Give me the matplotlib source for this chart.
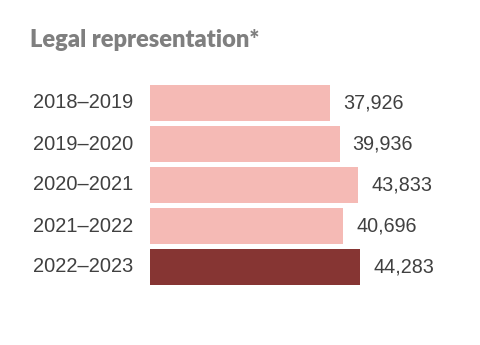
import matplotlib
matplotlib.use("Agg")
import matplotlib.pyplot as plt

categories = ["2018–2019", "2019–2020", "2020–2021", "2021–2022", "2022–2023"]
values = [37926, 39936, 43833, 40696, 44283]
value_labels = ["37,926", "39,936", "43,833", "40,696", "44,283"]
colors = ["#f5bab5", "#f5bab5", "#f5bab5", "#f5bab5", "#863533"]

W, H = 480, 345
fig = plt.figure(figsize=(W / 100, H / 100), dpi=100)
left_px, right_px = 150, 470
top_px, bot_px = 82.5, 287.5
ax = fig.add_axes([left_px / W, 1 - bot_px / H, (right_px - left_px) / W, (bot_px - top_px) / H])

scale = 180 / 37926  # px per unit
ax.set_xlim(0, (right_px - left_px) / scale)
ax.set_ylim(4.5, -0.5)
ypos = list(range(len(categories)))
ax.barh(ypos, values, height=0.878, color=colors, linewidth=0)

for y, v, lab in zip(ypos, values, value_labels):
    ax.text(v + 13 / scale, y, lab, va="center", ha="left", fontsize=14.2,
            color="#404040", family="Liberation Sans")
for y, c in zip(ypos, categories):
    ax.text(-17 / scale, y, c, va="center", ha="right", fontsize=14.4,
            color="#404040", family="Liberation Sans")

ax.axis("off")
fig.text(30 / W, 1 - 40 / H, "Legal representation*", fontsize=17, fontweight="heavy",
         color="#7f7f7f", family="Lato", va="center", ha="left")

fig.savefig("out.png", dpi=100)
